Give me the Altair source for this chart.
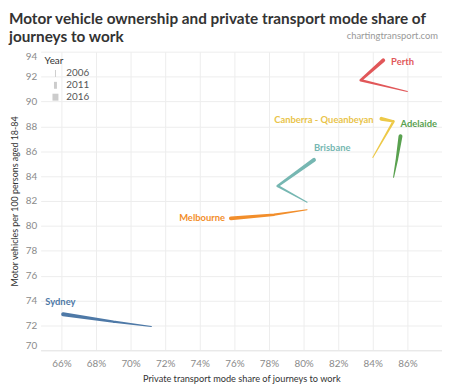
import altair as alt
import pandas as pd

cities = ["Sydney", "Melbourne", "Brisbane", "Perth", "Adelaide", "Canberra - Queanbeyan"]
years = [2006, 2011, 2016]
year_labels = [str(y) for y in years]
# private transport mode share (%) per city for 2006, 2011, 2016
mode_share = {
    "Sydney": [71.2, 69.0, 66.1],
    "Melbourne": [80.2, 78.3, 75.8],
    "Brisbane": [80.2, 78.5, 80.6],
    "Perth": [86.0, 83.3, 84.6],
    "Adelaide": [85.2, 85.4, 85.6],
    "Canberra - Queanbeyan": [84.0, 85.2, 84.5],
}
# motor vehicles per 100 persons aged 18-84
vehicles = {
    "Sydney": [71.9, 72.3, 72.9],
    "Melbourne": [81.3, 80.9, 80.6],
    "Brisbane": [81.9, 83.2, 85.3],
    "Perth": [90.8, 91.7, 93.3],
    "Adelaide": [83.9, 85.4, 87.2],
    "Canberra - Queanbeyan": [85.5, 88.4, 88.6],
}
colors = ["#4e79a7", "#f28e2b", "#76b7b2", "#e15759", "#59a14f", "#edc948"]
label_colors = ["#4e79a7", "#f28e2b", "#76b7b2", "#e15759", "#59a14f", "#e9c44a"]
# legend swatches: thin vertical bars, wider for later years
legend_paths = ["M-0.14,-1L0.14,-1L0.14,1L-0.14,1Z",
                "M-0.43,-1L0.43,-1L0.43,1L-0.43,1Z",
                "M-0.86,-1L0.86,-1L0.86,1L-0.86,1Z"]

rows = []
for c in cities:
    for i, yr in enumerate(years):
        rows.append({"city": c, "year": yr, "year_label": year_labels[i],
                     "share": mode_share[c][i], "veh": vehicles[c][i]})
df = pd.DataFrame(rows)

FONT = "Lato"
W, H = 406, 302

base = alt.Chart(df)

xenc = alt.X("share:Q", scale=alt.Scale(domain=[64.8, 88.0], nice=False, zero=False),
             axis=alt.Axis(values=list(range(66, 88, 2)), tickCount=20,
                           labelExpr="datum.value + '%'",
                           title="Private transport mode share of journeys to work",
                           grid=True, gridColor="#ededed", domain=True, domainColor="#e6e6e6",
                           ticks=False, labelColor="#8a8a8a", labelFontSize=10, labelFont=FONT,
                           labelOverlap=False,
                           titleFont=FONT, titleFontSize=9.3, titleFontWeight="normal",
                           titleColor="#333", titlePadding=7, labelPadding=8))
yenc = alt.Y("veh:Q", scale=alt.Scale(domain=[70, 94], nice=False, zero=False),
             axis=alt.Axis(values=list(range(70, 95, 2)), tickCount=20,
                           title="Motor vehicles per 100 persons aged 18-84",
                           grid=True, gridColor="#ededed", domain=False, ticks=False,
                           labelColor="#8a8a8a", labelFontSize=10, labelFont=FONT,
                           labelOverlap=False, labelFlush=True,
                           titleFont=FONT, titleFontSize=9, titleFontWeight="normal",
                           titleColor="#333", titlePadding=6, labelPadding=4))

trail = base.mark_trail().encode(
    x=xenc, y=yenc,
    color=alt.Color("city:N", scale=alt.Scale(domain=cities, range=colors), legend=None),
    size=alt.Size("year:O", scale=alt.Scale(domain=years, range=[1, 4, 7.5]), legend=None),
    detail="city:N",
    order=alt.Order("year:O"),
)

# invisible points that only carry the Year legend (bar widths grow with the year)
legend_layer = base.mark_point(filled=True, color="#cccccc", opacity=0, size=49).encode(
    x="share:Q", y="veh:Q",
    shape=alt.Shape("year_label:N", scale=alt.Scale(domain=year_labels, range=legend_paths),
                    legend=alt.Legend(title="Year", orient="top-left", offset=4,
                                      titleFont=FONT, labelFont=FONT,
                                      titleFontSize=10, titleFontWeight="normal",
                                      titleColor="#333", titlePadding=3,
                                      symbolOffset=6, labelOffset=6, symbolSize=49,
                                      symbolOpacity=1, symbolStrokeWidth=0,
                                      symbolFillColor="#cccccc",
                                      labelFontSize=10, labelColor="#555", rowPadding=2,
                                      padding=0)),
)

label_specs = {
    "Perth": ("left", 8, 2),
    "Canberra - Queanbeyan": ("right", -8, 1),
    "Adelaide": ("left", 0, -12),
    "Brisbane": ("left", 0, -12),
    "Melbourne": ("right", -6, 0),
    "Sydney": ("left", -18, -12),
}
labels = []
for c, col in zip(cities, label_colors):
    al, dx, dy = label_specs[c]
    labels.append(
        base.transform_filter((alt.datum.city == c) & (alt.datum.year == 2016))
        .mark_text(align=al, baseline="middle", dx=dx, dy=dy, font=FONT, fontSize=9.5,
                   fontWeight="bold", color=col)
        .encode(x="share:Q", y="veh:Q", text="city:N")
    )

credit = alt.Chart(pd.DataFrame({"t": ["chartingtransport.com"]})).mark_text(
    align="right", baseline="middle", font=FONT, fontSize=9.5, color="#999999"
).encode(x=alt.value(W - 4), y=alt.value(-16), text="t:N")

chart = alt.layer(trail, legend_layer, *labels, credit).properties(
    width=W, height=H,
    title=alt.TitleParams(
        text=["Motor vehicle ownership and private transport mode share of", "journeys to work"],
        anchor="start", frame="group", dx=-32, offset=-15, font=FONT, fontSize=15.5,
        fontWeight="bold", color="#333333", lineHeight=19),
    autosize=alt.AutoSizeParams(type="none"),
    padding={"left": 33, "top": 42, "right": 0, "bottom": 36},
).configure_view(stroke=None)

chart.save("out.html", embed_options={"renderer": "svg", "actions": False})
